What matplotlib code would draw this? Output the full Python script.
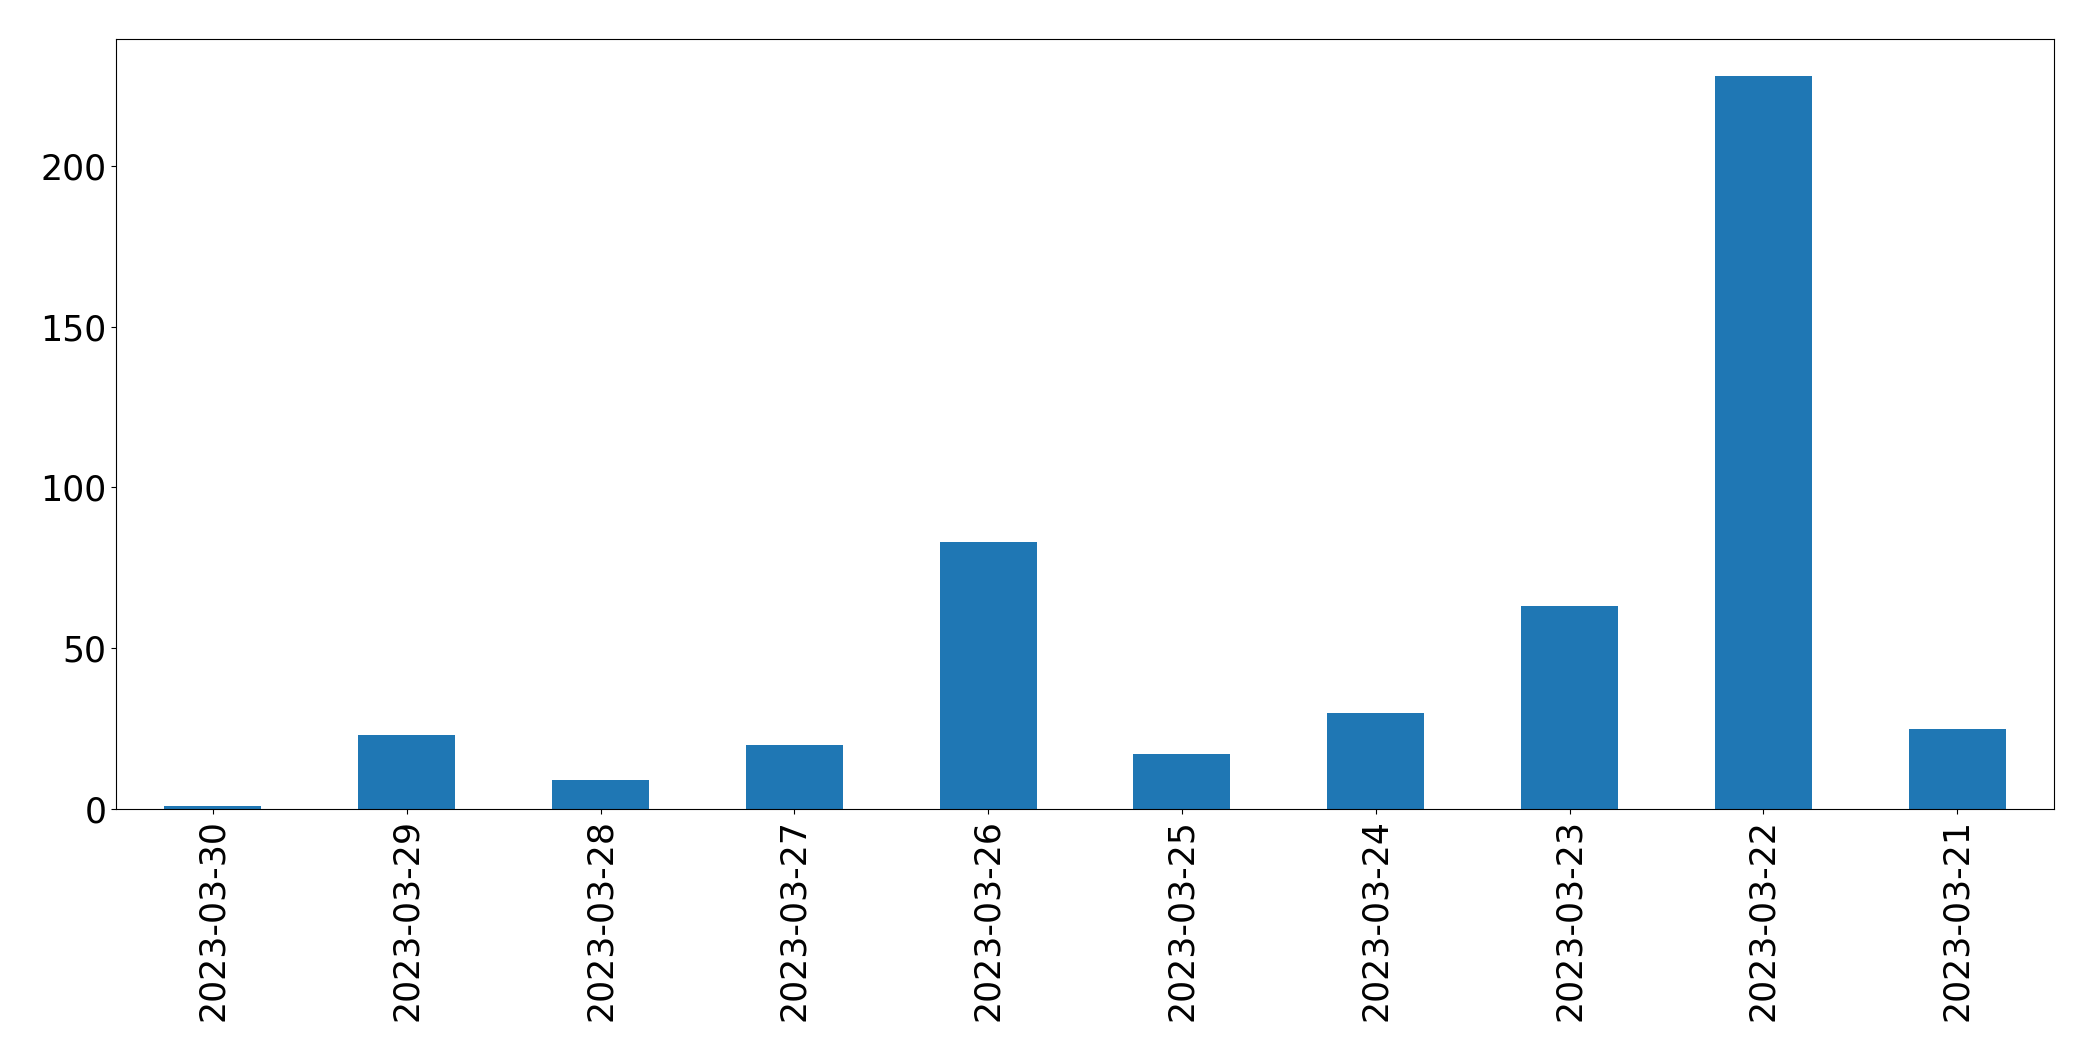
import matplotlib
matplotlib.use("Agg")
import matplotlib.pyplot as plt
import pandas as pd

# daily counts, newest first
dates = ["2023-03-30", "2023-03-29", "2023-03-28", "2023-03-27", "2023-03-26",
         "2023-03-25", "2023-03-24", "2023-03-23", "2023-03-22", "2023-03-21"]
counts = [1, 23, 9, 20, 83, 17, 30, 63, 228, 25]

s = pd.Series(counts, index=dates)

fig, ax = plt.subplots(figsize=(20.93, 10.61), dpi=100)
s.plot.bar(ax=ax, color="#1f77b4", fontsize=25)

fig.subplots_adjust(left=116 / 2093, right=2054 / 2093, top=1 - 39 / 1061, bottom=1 - 809 / 1061)
fig.savefig("out.png", dpi=100)
